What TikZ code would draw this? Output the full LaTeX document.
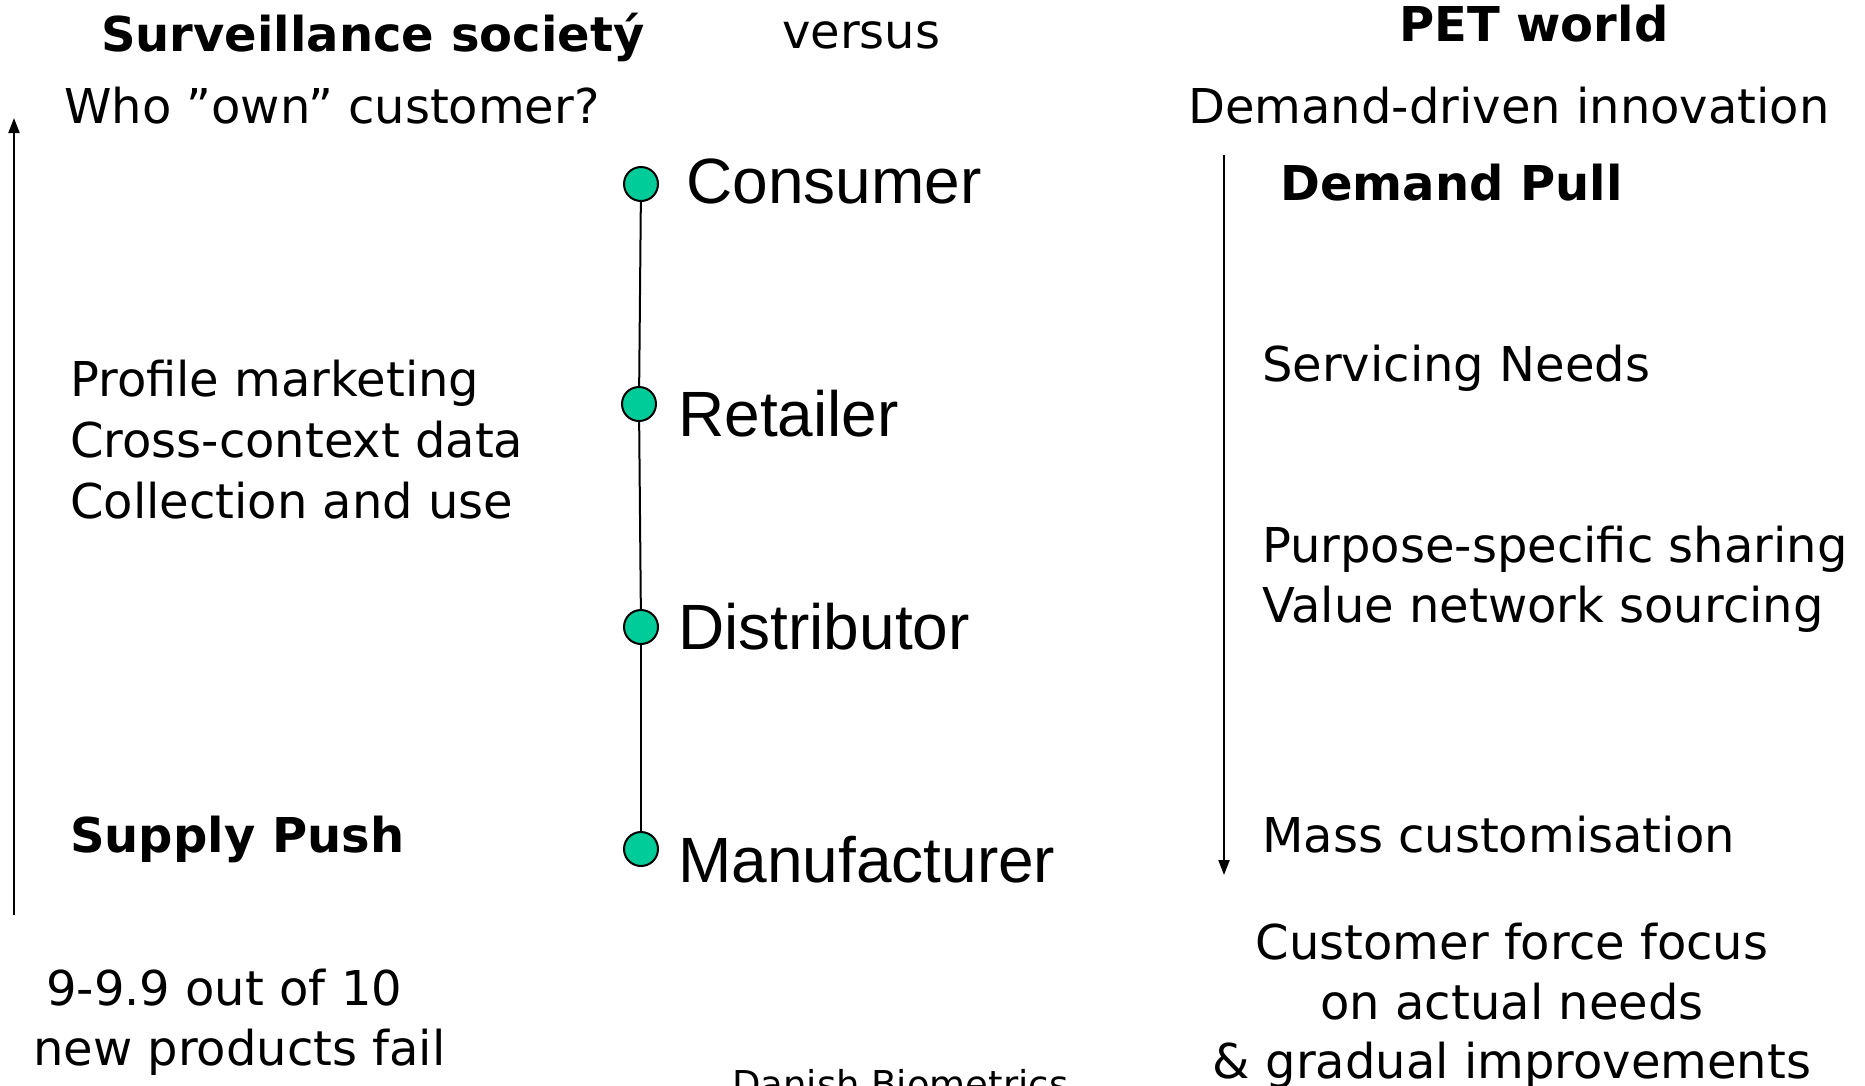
\documentclass[tikz,border=0pt]{standalone}
\usepackage{fontspec}
\setmainfont{DejaVu Sans}
\newfontfamily\arialfont{Liberation Sans}
\usetikzlibrary{arrows.meta}
\tikzset{
  txt/.style={inner sep=0pt, anchor=base west, font=\fontsize{48}{58}\selectfont},
  btxt/.style={txt, font=\fontsize{48}{58}\selectfont\bfseries},
  ctxt/.style={inner sep=0pt, anchor=base, font=\fontsize{48}{58}\selectfont},
  stage/.style={inner sep=0pt, anchor=base west, font=\fontsize{64}{76}\selectfont\arialfont},
  dot/.style={circle, draw=black, line width=2pt, fill=dotgreen, minimum size=34pt, inner sep=0pt},
  flow/.style={line width=2pt, -{Triangle[width=11pt,length=15pt]}},
  chain/.style={line width=2pt}
}
\definecolor{dotgreen}{RGB}{0,204,153}
\begin{document}
\begin{tikzpicture}[x=1pt,y=-1pt]
\useasboundingbox (0,0) rectangle (1865,1085);
\clip (0,0) rectangle (1865,1085);
% titles
\node[btxt] (t1) at (101,51) {Surveillance societý};
\node[txt] (vs) at (782,48) {versus};
\node[btxt] (t2) at (1399,41) {PET world};
\node[txt] (who) at (64,123) {Who ”own” customer?};
\node[txt] (ddi) at (1188,123) {Demand-driven innovation};
% chain
\node[dot] (c1) at (641,184) {};
\node[dot] (c2) at (639,404) {};
\node[dot] (c3) at (641,627) {};
\node[dot] (c4) at (641,849) {};
\draw[chain] (c1) -- (c2);
\draw[chain] (c2) -- (c3);
\draw[chain] (c3) -- (c4);
\node[stage] (consumer) at (686,203) {Consumer};
\node[stage] (retailer) at (678,436) {Retailer};
\node[stage] (distributor) at (678,649) {Distributor};
\node[stage] (manufacturer) at (678,882) {Manufacturer};
% left side
\coordinate (la) at (14,915);
\coordinate (lb) at (14,118);
\draw[flow] (la) -- (lb);
\node[txt] (pm) at (70,396) {Profile marketing};
\node[txt] (cc) at (70,457) {Cross-context data};
\node[txt] (cu) at (70,518) {Collection and use};
\node[btxt] (sp) at (70,852) {Supply Push};
\node[txt] (n1) at (46,1005) {9-9.9 out of 10};
\node[txt] (n2) at (33,1065) {new products fail};
% right side
\coordinate (ra) at (1224,155);
\coordinate (rb) at (1224,875);
\draw[flow] (ra) -- (rb);
\node[btxt] (dp) at (1280,200) {Demand Pull};
\node[txt] (sn) at (1262,381) {Servicing Needs};
\node[txt] (ps) at (1262,562) {Purpose-specific sharing};
\node[txt] (vn) at (1262,622) {Value network sourcing};
\node[txt] (mc) at (1262,852) {Mass customisation};
\node[ctxt] (cf1) at (1512,959) {Customer force focus};
\node[ctxt] (cf2) at (1512,1019) {on actual needs};
\node[ctxt] (cf3) at (1512,1078) {\& gradual improvements};
% footer
\node[inner sep=0pt, anchor=base west, font=\fontsize{37}{44}\selectfont] (foot) at (732,1097) {Danish Biometrics};
\end{tikzpicture}
\end{document}
